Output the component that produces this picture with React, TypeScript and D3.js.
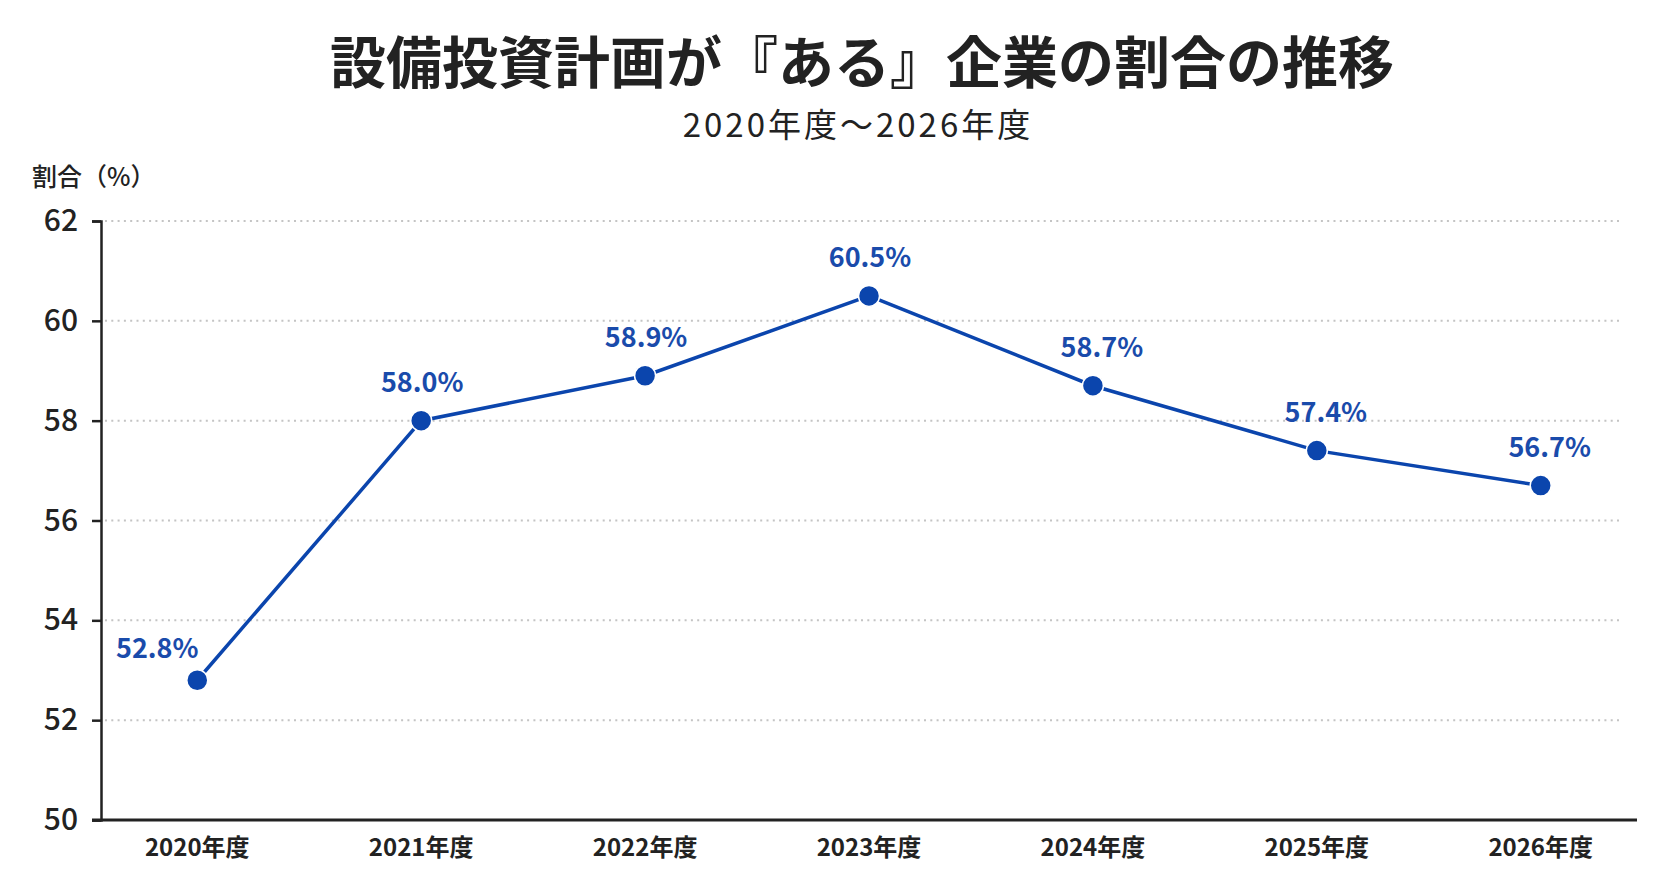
import React, { useEffect, useRef } from 'react';
import * as d3 from 'd3';

// chart data
const years = ['2020年度', '2021年度', '2022年度', '2023年度', '2024年度', '2025年度', '2026年度'];
const shares = [52.8, 58.0, 58.9, 60.5, 58.7, 57.4, 56.7];
const yTicks = [50, 52, 54, 56, 58, 60, 62];

const W = 1672;
const H = 874;
const FONT = '"Noto Sans CJK JP", "Noto Sans", sans-serif';
const BLUE = '#0b45ad';

const App: React.FC = () => {
  const svgRef = useRef<SVGSVGElement>(null);

  useEffect(() => {
    if (!svgRef.current) return;
    const svg = d3.select(svgRef.current);
    svg.selectAll('*').remove();

    const left = 101;
    const right = 1637;
    const top = 221;
    const bottom = 820;

    const x = d3.scalePoint<string>().domain(years).range([left, right]).padding(0.43);
    const y = d3.scaleLinear().domain([50, 62]).range([bottom, top]);

    svg.append('rect').attr('width', W).attr('height', H).attr('fill', '#ffffff');

    // title
    svg.append('text')
      .attr('x', 862).attr('y', 83)
      .attr('text-anchor', 'middle')
      .attr('font-family', FONT).attr('font-size', 56).attr('font-weight', 700)
      .attr('fill', '#222')
      .text('設備投資計画が『ある』企業の割合の推移');

    svg.append('text')
      .attr('x', 858).attr('y', 137)
      .attr('text-anchor', 'middle')
      .attr('font-family', FONT).attr('font-size', 33).attr('font-weight', 400)
      .attr('letter-spacing', 3)
      .attr('fill', '#222')
      .text('2020年度～2026年度');

    svg.append('text')
      .attr('x', 32).attr('y', 186)
      .attr('font-family', FONT).attr('font-size', 25).attr('font-weight', 500)
      .attr('fill', '#222')
      .text('割合（%）');

    // gridlines
    svg.append('g')
      .selectAll('line')
      .data(yTicks.filter(t => t !== 50))
      .join('line')
      .attr('x1', left + 4).attr('x2', 1623)
      .attr('y1', d => y(d)).attr('y2', d => y(d))
      .attr('stroke', '#c4c4c4')
      .attr('stroke-width', 2)
      .attr('stroke-dasharray', '2 4.3');

    // y axis
    const yAxis = svg.append('g')
      .attr('transform', `translate(${left},0)`)
      .call(d3.axisLeft(y).tickValues(yTicks).tickSize(9).tickPadding(14).tickFormat(d3.format('d')));
    yAxis.select('.domain').attr('stroke', '#222').attr('stroke-width', 2.5);
    yAxis.selectAll('.tick line').attr('stroke', '#222').attr('stroke-width', 2.5);
    yAxis.selectAll('.tick text')
      .attr('font-family', FONT).attr('font-size', 30).attr('font-weight', 500)
      .attr('fill', '#222');

    // x axis
    svg.append('line')
      .attr('x1', left - 9).attr('x2', right)
      .attr('y1', bottom).attr('y2', bottom)
      .attr('stroke', '#222').attr('stroke-width', 3);

    svg.append('g')
      .selectAll('text')
      .data(years)
      .join('text')
      .attr('x', d => x(d)!)
      .attr('y', 856)
      .attr('text-anchor', 'middle')
      .attr('font-family', FONT).attr('font-size', 24).attr('font-weight', 600)
      .attr('fill', '#222')
      .text(d => d);

    // line + dots
    const pts = years.map((yr, i) => ({ yr, v: shares[i], i }));
    const line = d3.line<{ yr: string; v: number }>()
      .x(d => x(d.yr)!)
      .y(d => y(d.v));

    svg.append('path')
      .datum(pts)
      .attr('d', line)
      .attr('fill', 'none')
      .attr('stroke', BLUE)
      .attr('stroke-width', 3.5);

    svg.append('g')
      .selectAll('circle')
      .data(pts)
      .join('circle')
      .attr('cx', d => x(d.yr)!)
      .attr('cy', d => y(d.v))
      .attr('r', 10.5)
      .attr('fill', BLUE)
      .attr('stroke', '#ffffff')
      .attr('stroke-width', 1.5);

    svg.append('g')
      .selectAll('text')
      .data(pts)
      .join('text')
      .attr('x', d => x(d.yr)! + (d.i === 0 ? -40 : d.v < shares[d.i - 1] ? 9 : 1))
      .attr('y', d => y(d.v) - (d.i === 0 ? 22 : 29))
      .attr('text-anchor', 'middle')
      .attr('font-family', FONT).attr('font-size', 27).attr('font-weight', 600)
      .attr('fill', '#1a4bab')
      .text(d => `${d.v.toFixed(1)}%`);
  }, []);

  return (
    <svg
      ref={svgRef}
      width={W}
      height={H}
      style={{ position: 'absolute', left: 0, top: 0, display: 'block' }}
    />
  );
};

export default App;
